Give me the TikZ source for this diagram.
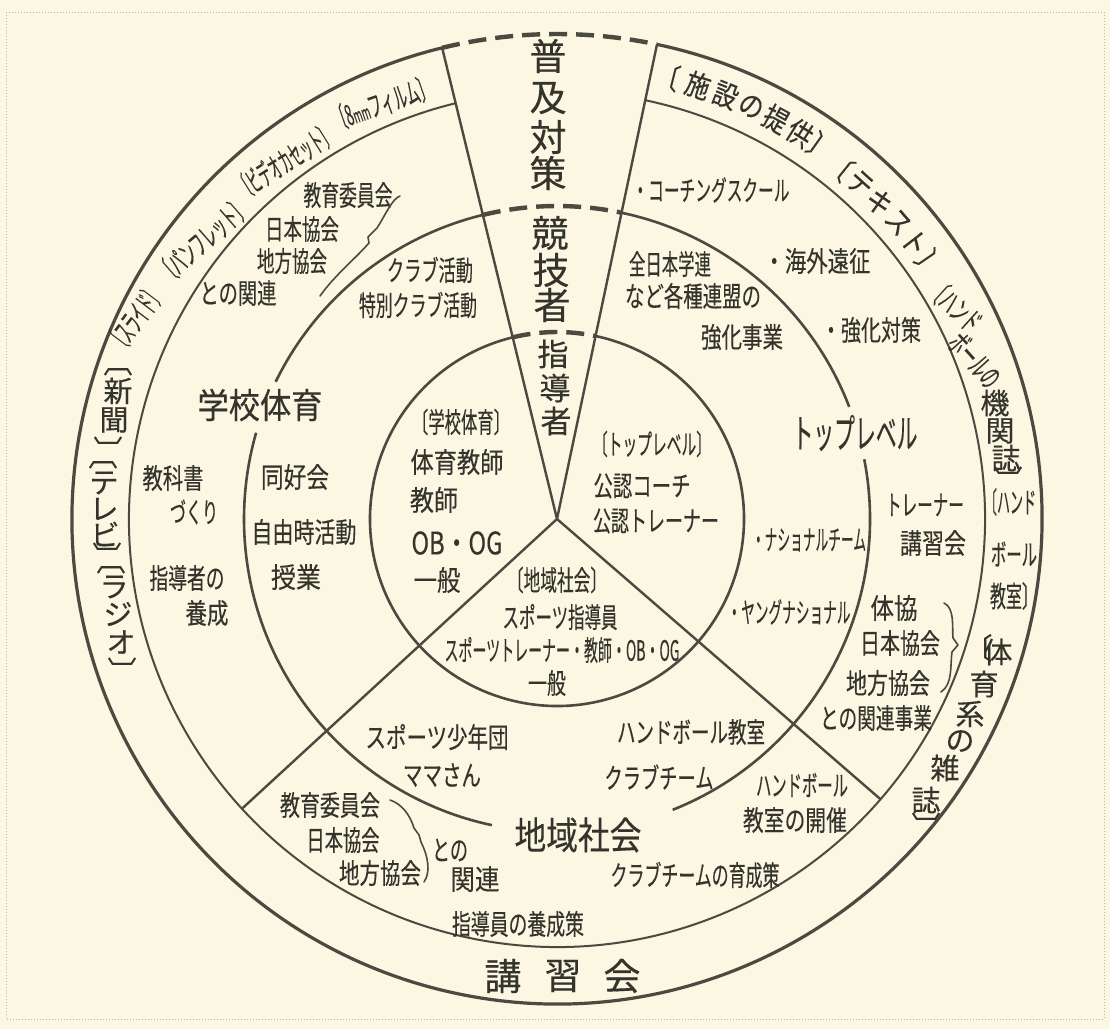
\documentclass[tikz,border=0pt]{standalone}
\usepackage{fontspec}
\usepackage{graphicx}
\newfontfamily\jp[FakeBold=0.3]{Noto Sans CJK JP}
\usetikzlibrary{calc}
\definecolor{paper}{HTML}{FBF7E3}
\definecolor{ink}{HTML}{34342C}
\definecolor{lin}{HTML}{4A4A40}
\definecolor{frm}{HTML}{B8B4A4}
\newlength\pxu \setlength\pxu{0.5pt}
\newcommand\tw[2]{\resizebox{#1\pxu}{\height}{#2}}
\tikzset{
 lbl/.style={font=\jp\fontsize{14}{14}\selectfont, text=ink, inner sep=0pt},
 olbl/.style={font=\jp\fontsize{14.5}{14.5}\selectfont, text=ink, inner sep=0pt},
 bigl/.style={font=\jp\fontsize{17.5}{17.5}\selectfont, text=ink, inner sep=0pt},
 hugel/.style={font=\jp\fontsize{18.5}{18.5}\selectfont, text=ink, inner sep=0pt},
 midl/.style={font=\jp\fontsize{15.5}{15.5}\selectfont, text=ink, inner sep=0pt},
 ringA/.style={draw=lin, line width=1.6pt},
 ringB/.style={draw=lin, line width=1.0pt},
 ringC/.style={draw=lin, line width=1.3pt},
 ringd/.style={draw=lin, line width=2.2pt, dash pattern=on 9pt off 4.5pt},
 spoke/.style={draw=lin, line width=1.2pt},
 brace/.style={draw=lin, line width=0.8pt, line cap=round, line join=round},
}
\begin{document}
\begin{tikzpicture}[x=0.5pt,y=-0.5pt]
\fill[paper] (0,0) rectangle (1110,1029);
\useasboundingbox (0,0) rectangle (1110,1029);
\draw[frm, densely dotted, line width=0.5pt] (6,12) rectangle (1104,1019);
\coordinate (C) at (557,519);
% ---- spoke ends
\coordinate (eUL) at ($(C)+(-103.7:485)$);
\coordinate (eUR) at ($(C)+(-78.1:485)$);
\coordinate (eDL) at ($(C)+(137.4:428)$);
\coordinate (eDR) at ($(C)+(40.9:428)$);
% ---- rings
\draw[ringA] ($(C)+(-78.1:485)$) arc[start angle=-78.1,end angle=256.3,radius=485];
\draw[ringd] ($(C)+(256.3:485)$) arc[start angle=256.3,end angle=281.9,radius=485];
\draw[ringB] ($(C)+(-78.1:428)$) arc[start angle=-78.1,end angle=256.3,radius=428];
\draw[ringC] ($(C)+(-78.1:313)$) arc[start angle=-78.1,end angle=-21,radius=313];
\draw[ringC] ($(C)+(-11:313)$) arc[start angle=-11,end angle=68.3,radius=313];
\draw[ringC] ($(C)+(102:313)$) arc[start angle=102,end angle=196,radius=313];
\draw[ringC] ($(C)+(206:313)$) arc[start angle=206,end angle=256.3,radius=313];
\draw[ringd] ($(C)+(256.3:313)$) arc[start angle=256.3,end angle=281.9,radius=313];
\draw[ringC] ($(C)+(-78.1:187)$) arc[start angle=-78.1,end angle=256.3,radius=187];
\draw[ringd] ($(C)+(256.3:187)$) arc[start angle=256.3,end angle=281.9,radius=187];
% ---- spokes
\draw[spoke] (C) -- (eUL);
\draw[spoke] (C) -- (eUR);
\draw[spoke] (C) -- (eDL);
\draw[spoke] (C) -- (eDR);
% ---- top wedge
\node[hugel] (tw1) at (548,56) {普};
\node[hugel] (tw2) at (548,98) {及};
\node[hugel] (tw3) at (548,137) {対};
\node[hugel] (tw4) at (548,173) {策};
\node[hugel] (kg1) at (550,233) {競};
\node[hugel] (kg2) at (551,270) {技};
\node[hugel] (kg3) at (552,305) {者};
\node[midl] (sd1) at (553,354) {指};
\node[midl] (sd2) at (555,388) {導};
\node[midl] (sd3) at (556,421) {者};
% ---- left outer band
\node[olbl, rotate=19] (m1) at (382,103) {\tw{104}{〔8{\fontsize{10}{10}\selectfont mm}フィルム〕}};
\node[olbl, rotate=32] (m2) at (285,161) {\tw{110}{〔ビデオカセット〕}};
\node[olbl, rotate=41] (m3) at (203,240) {\tw{110}{〔パンフレット〕}};
\node[olbl, rotate=53] (m4) at (135,318) {\tw{72}{〔スライド〕}};
\node[olbl, rotate=-90] (v1) at (118,362) {〔};
\node[olbl] (v2) at (118,391) {新};
\node[olbl] (v3) at (114,420) {聞};
\node[olbl, rotate=-90] (v4) at (108,450) {〕};
\node[olbl, rotate=-90] (v5) at (103,455) {〔};
\node[olbl] (v6) at (104,483) {テ};
\node[olbl] (v7) at (104,509) {レ};
\node[olbl] (v8) at (105,534) {ビ};
\node[olbl, rotate=-90] (v9) at (107,556) {〕};
\node[olbl, rotate=-90] (v10) at (111,560) {〔};
\node[olbl] (v11) at (114,587) {ラ};
\node[olbl] (v12) at (118,614) {ジ};
\node[olbl] (v13) at (121,642) {オ};
\node[olbl, rotate=-90] (v14) at (122,671) {〕};
% ---- left middle band
\node[lbl] (a1) at (348,195) {\tw{89}{教育委員会}};
\node[lbl] (a2) at (302,229) {\tw{74}{日本協会}};
\node[lbl] (a3) at (292,261) {\tw{70}{地方協会}};
\node[lbl] (a4) at (238,293) {\tw{77}{との関連}};
\node[bigl] (a5) at (260,405) {\tw{125}{学校体育}};
\node[lbl] (a6) at (173,478) {\tw{61}{教科書}};
\node[lbl] (a7) at (194,512) {\tw{48}{づくり}};
\node[lbl] (a8) at (187,578) {\tw{75}{指導者の}};
\node[lbl] (a9) at (207,613) {\tw{43}{養成}};
\draw[brace] (400,196) .. controls (392,199) and (386,214) .. (377,228)
  -- (368,237) -- (369,243) .. controls (356,258) and (334,276) .. (320,296);
% ---- left inner band
\node[lbl] (b1) at (430,270) {\tw{86}{クラブ活動}};
\node[lbl] (b2) at (418,305) {\tw{118}{特別クラブ活動}};
\node[lbl] (b3) at (295,477) {\tw{68}{同好会}};
\node[lbl] (b4) at (304,532) {\tw{105}{自由時活動}};
\node[lbl] (b5) at (296,577) {\tw{50}{授業}};
% ---- inner circle
\node[lbl] (c1) at (461,422) {\tw{98}{〔学校体育〕}};
\node[lbl] (c2) at (457,462) {\tw{93}{体育教師}};
\node[lbl] (c3) at (434,500) {\tw{48}{教師}};
\node[midl] (c4) at (457,543) {\tw{91}{OB・OG}};
\node[lbl] (c5) at (437,580) {\tw{47}{一般}};
\node[lbl] (c6) at (652,444) {\tw{118}{〔トップレベル〕}};
\node[lbl] (c7) at (642,486) {\tw{97}{公認コーチ}};
\node[lbl] (c8) at (656,521) {\tw{126}{公認トレーナー}};
\node[lbl] (c9) at (557,580) {\tw{100}{〔地域社会〕}};
\node[lbl] (c10) at (560,617) {\tw{115}{スポーツ指導員}};
\node[lbl] (c11) at (562,650) {\tw{235}{スポーツトレーナー・教師・OB・OG}};
\node[lbl] (c12) at (547,683) {\tw{38}{一般}};
% ---- right bands
\node[lbl] (r1) at (711,190) {\tw{157}{・コーチングスクール}};
\node[lbl] (r2) at (670,264) {\tw{82}{全日本学連}};
\node[lbl] (r3) at (693,296) {\tw{136}{など各種連盟の}};
\node[lbl] (r4) at (742,337) {\tw{82}{強化事業}};
\node[lbl] (r5) at (817,261) {\tw{107}{・海外遠征}};
\node[lbl] (r6) at (871,330) {\tw{100}{・強化対策}};
\node[font=\jp\fontsize{20}{20}\selectfont, text=ink, inner sep=0pt] (r7) at (855,433) {\tw{125}{トップレベル}};
\node[lbl] (r8) at (809,540) {\tw{114}{・ナショナルチーム}};
\node[lbl] (r9) at (789,612) {\tw{123}{・ヤングナショナル}};
\node[lbl] (r10) at (925,505) {\tw{78}{トレーナー}};
\node[lbl] (r11) at (933,543) {\tw{66}{講習会}};
\node[lbl] (r12) at (894,608) {\tw{47}{体協}};
\node[lbl] (r13) at (900,643) {\tw{80}{日本協会}};
\node[lbl] (r14) at (888,683) {\tw{84}{地方協会}};
\node[lbl] (r15) at (876,718) {\tw{112}{との関連事業}};
\draw[brace] (944,603) .. controls (955,608) and (952,628) .. (953,638)
  -- (958,645) -- (952,652) .. controls (950,666) and (953,684) .. (941,692);
% ---- outer right band
\foreach \c/\a [count=\i] in {〔/76.0,施/72.0,設/68.3,の/64.8,提/61.3,供/57.8,〕/54.6}
  \node[olbl, rotate=\a-90] (s\i) at ($(C)+(-\a:456)$) {\scalebox{0.85}[1]{\c}};
\foreach \c/\a [count=\i] in {〔/51.3,テ/47.9,キ/44.5,ス/41.0,ト/37.7,〕/34.4}
  \node[olbl, rotate=\a-90] (t\i) at ($(C)+(-\a:452)$) {\scalebox{0.85}[1]{\c}};
\node[olbl, rotate=-42] (h1) at (955,306) {\tw{60}{〔ハンド}};
\node[olbl, rotate=-48] (h2) at (975,360) {\tw{62}{ボールの}};
\node[olbl] (h3) at (995,403) {機};
\node[olbl] (h4) at (1000,431) {関};
\node[olbl] (h5) at (1006,458) {誌};
\node[olbl, rotate=-90] (h6) at (1008,480) {〕};
\node[olbl] (k1) at (1010,502) {\tw{52}{〔ハンド}};
\node[olbl] (k2) at (1014,554) {\tw{46}{ボール}};
\node[olbl] (k3) at (1014,596) {\tw{48}{教室〕}};
\node[olbl] (z1) at (978,648) {〔};
\node[olbl] (z2) at (998,652) {体};
\node[olbl] (z3) at (984,684) {育};
\node[olbl] (z4) at (970,714) {系};
\node[olbl] (z5) at (960,741) {の};
\node[olbl] (z6) at (945,768) {雑};
\node[olbl] (z7) at (926,800) {誌};
\node[olbl, rotate=-90] (z8) at (926,826) {〕};
% ---- bottom
\node[lbl] (d1) at (691,732) {\tw{148}{ハンドボール教室}};
\node[lbl] (d2) at (659,777) {\tw{109}{クラブチーム}};
\node[lbl] (d3) at (802,785) {\tw{92}{ハンドボール}};
\node[lbl] (d4) at (795,820) {\tw{104}{教室の開催}};
\node[lbl] (d5) at (695,875) {\tw{169}{クラブチームの育成策}};
\node[font=\jp\fontsize{19}{19}\selectfont, text=ink, inner sep=0pt] (d6) at (578,835) {\tw{127}{地域社会}};
\node[lbl] (d7) at (518,924) {\tw{132}{指導員の養成策}};
\node[hugel] (d8) at (503,976) {講};
\node[hugel] (d9) at (563,976) {習};
\node[hugel] (d10) at (622,976) {会};
\node[lbl] (d11) at (437,737) {\tw{143}{スポーツ少年団}};
\node[lbl] (d12) at (442,775) {\tw{78}{ママさん}};
\node[lbl] (d13) at (330,805) {\tw{100}{教育委員会}};
\node[lbl] (d14) at (343,840) {\tw{73}{日本協会}};
\node[lbl] (d15) at (380,873) {\tw{82}{地方協会}};
\node[lbl] (d16) at (450,850) {\tw{36}{との}};
\node[lbl] (d17) at (475,879) {\tw{49}{関連}};
\draw[brace] (390,800) .. controls (402,804) and (410,815) .. (414,828)
  -- (419,835) -- (421,842) .. controls (428,856) and (431,872) .. (424,882);
\end{tikzpicture}
\end{document}
